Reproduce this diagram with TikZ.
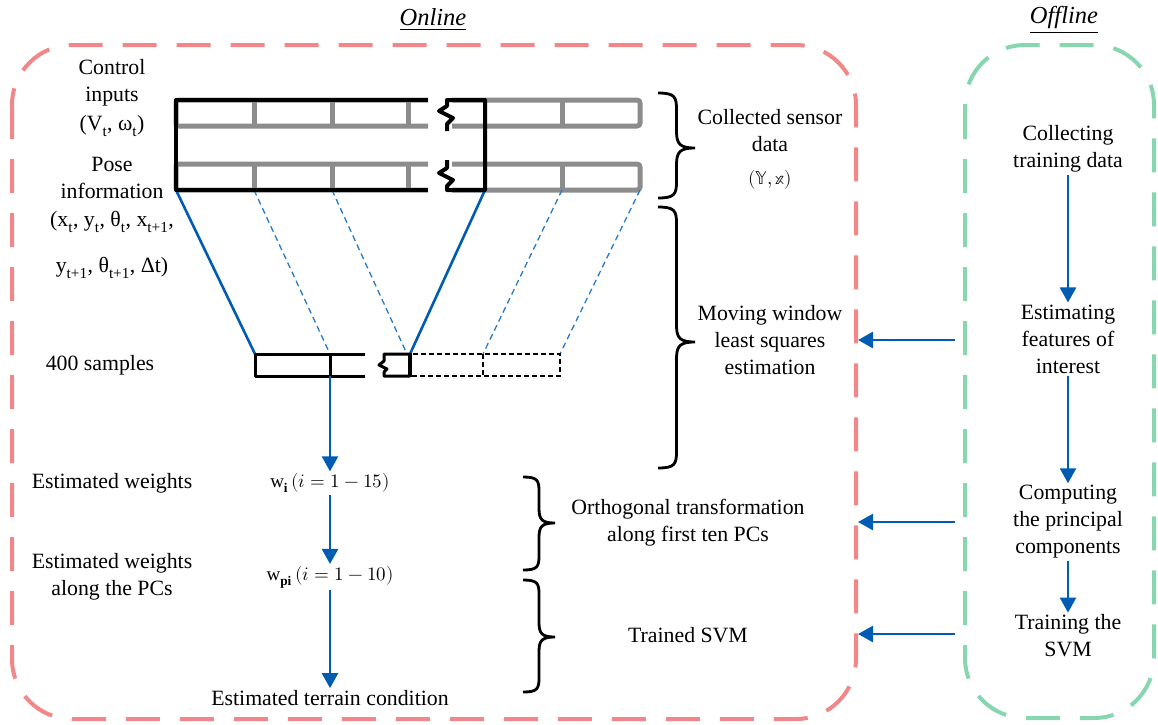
\documentclass[tikz,border=0pt]{standalone}
\usepackage{fontspec}
\usepackage{unicode-math}
\setmainfont{Liberation Serif}
\setmathfont{Latin Modern Math}
\usetikzlibrary{arrows.meta}

\definecolor{onlinepink}{RGB}{242,135,138}
\definecolor{offlinegreen}{RGB}{135,214,175}
\definecolor{bargray}{RGB}{140,140,140}
\definecolor{flowblue}{RGB}{0,92,178}
\definecolor{linkblue}{RGB}{40,122,200}

% curly brace opening to the right: x, top, bottom, tip height, depth
\newcommand{\curlyglyph}[5]{%
  \draw[bracestroke] (#1,#2)
    .. controls ({#1+0.45*#5},#2) and ({#1+0.5*#5},{#2+0.1*#5}) .. ({#1+0.5*#5},{#2+0.45*#5})
    -- ({#1+0.5*#5},{#4-0.45*#5})
    .. controls ({#1+0.5*#5},{#4-0.1*#5}) and ({#1+0.6*#5},#4) .. ({#1+#5},#4)
    .. controls ({#1+0.6*#5},#4) and ({#1+0.5*#5},{#4+0.1*#5}) .. ({#1+0.5*#5},{#4+0.45*#5})
    -- ({#1+0.5*#5},{#3-0.45*#5})
    .. controls ({#1+0.5*#5},{#3-0.1*#5}) and ({#1+0.45*#5},#3) .. (#1,#3);%
}

\begin{document}
\begin{tikzpicture}[x=1pt,y=-1pt,
  txt/.style={font=\fontsize{21.8}{27}\selectfont, align=center, inner sep=2pt},
  headtxt/.style={font=\fontsize{24.5}{28}\selectfont, inner sep=2pt},
  mathtxt/.style={font=\fontsize{19}{23}\selectfont, inner sep=2pt},
  region/.style={line width=4pt, dash pattern=on 34pt off 20pt, rounded corners=60pt},
  bar/.style={draw=bargray, line width=5pt},
  frame/.style={draw=black, line width=4pt, line join=round},
  flow/.style={draw=flowblue, line width=2.6pt, -{Triangle[width=16pt,length=15pt]}},
  link/.style={draw=flowblue, line width=2.6pt},
  dlink/.style={draw=linkblue, line width=1.3pt, dash pattern=on 6pt off 4pt},
  bracestroke/.style={draw=black, line width=2.8pt},
  ghost/.style={draw=black, line width=1.3pt, dash pattern=on 5pt off 3pt},
]
\useasboundingbox (0,0) rectangle (1158,724);

% the two processing regions
\draw[region, draw=onlinepink] (12,45) rectangle (856,719);
\draw[region, draw=offlinegreen] (965,45) rectangle (1154,718);
\node[headtxt] (online) at (433,20) {\underline{\textit{Online}}};
\node[headtxt] (offline) at (1064,20) {\underline{\textit{Offline}}};

% sensor data streams (two rows of cells, broken in the middle)
\foreach \t/\b in {100/126, 164/190} {
  \draw[bar, rounded corners=2pt] (428,\t) -- (176,\t) -- (176,\b) -- (428,\b);
  \draw[bar, rounded corners=3pt] (452,\t) -- (640,\t) -- (640,\b) -- (452,\b);
  \foreach \c in {254,332,408,562} \draw[bar] (\c,\t) -- (\c,\b);
}

% corners of the data window and of the sample window
\coordinate (dA) at (176,190);
\coordinate (dB) at (254,190);
\coordinate (dC) at (332,190);
\coordinate (dD) at (485,190);
\coordinate (dE) at (562,190);
\coordinate (dF) at (640,190);
\coordinate (sA) at (255,354);
\coordinate (sB) at (330,354);
\coordinate (sC) at (407,354);
\coordinate (sD) at (410,354);
\coordinate (sE) at (483,354);
\coordinate (sF) at (560,354);

% projection of the data window onto the samples
\draw[link] (dA) -- (sA);
\draw[link] (dD) -- (sD);
\draw[dlink] (dB) -- (sB);
\draw[dlink] (dC) -- (sC);
\draw[dlink] (dE) -- (sE);
\draw[dlink] (dF) -- (sF);

% black window over the data streams
\draw[frame] (428,100) -- (176,100) -- (176,190) -- (428,190);
\draw[frame] (447,131) -- (447,124) -- (453,118) -- (439,111) -- (447,106) -- (447,100)
  -- (485,100) -- (485,190) -- (447,190) -- (447,186) -- (453,180) -- (439,173) -- (447,168) -- (447,160);

% 400-sample window
\draw[frame, line width=3pt] (365,354) -- (255,354) -- (255,376) -- (365,376);
\draw[frame, line width=3pt] (330,354) -- (330,376);
\draw[frame, line width=3pt] (410,376) -- (384,376) -- (384,372) -- (387,369) -- (379,365)
  -- (384,361) -- (384,354) -- (410,354);
\draw[frame, line width=4.5pt] (410,353) -- (410,377);
\draw[ghost] (410,354) rectangle (560,376);
\draw[ghost] (483,354) -- (483,376);

% left-hand labels
\node[txt] (ctrl) at (112,83) {Control\\inputs};
\node[txt] (ctrlvars) at (112,126) {(V\textsubscript{t}, ω\textsubscript{t})};
\node[txt] (pose) at (112,178) {Pose\\information};
\node[txt] (posevars) at (112,245) {(x\textsubscript{t}, y\textsubscript{t}, θ\textsubscript{t}, x\textsubscript{t+1},\\[19pt]
  y\textsubscript{t+1}, θ\textsubscript{t+1}, Δt)};
\node[txt] (samples) at (100,365) {400 samples};
\node[txt] (estw) at (112,483) {Estimated weights};
\node[txt] (estwpc) at (112,577) {Estimated weights\\along the PCs};

% online chain
\coordinate (winout) at (330,376);
\node[mathtxt] (wi) at (330,483) {$\mathrm{w}_{\mathbf{i}}\,(i=1-15)$};
\node[mathtxt] (wpi) at (330,577) {$\mathrm{w}_{\mathbf{pi}}\,(i=1-10)$};
\node[txt] (terrain) at (330,698) {Estimated terrain condition};
\draw[flow] (winout) -- (wi);
\draw[flow] (wi) -- (wpi);
\draw[flow] (wpi) -- (terrain);

% braces and their descriptions
\curlyglyph{658}{93}{198}{148}{37}
\curlyglyph{658}{207}{468}{342}{37}
\curlyglyph{523}{477}{570}{523}{32}
\curlyglyph{523}{580}{692}{637}{32}
\node[txt] (sensor) at (770,131) {Collected sensor\\data};
\node[mathtxt] (sensorvars) at (770,180) {$(\symbb{Y},\symbb{x})$};
\node[txt] (mwls) at (770,340) {Moving window\\least squares\\estimation};
\node[txt] (ortho) at (688,523) {Orthogonal transformation\\along first ten PCs};
\node[txt] (svm) at (688,635) {Trained SVM};

% offline chain
\node[txt] (collect) at (1068,149) {Collecting\\training data};
\node[txt] (features) at (1068,339) {Estimating\\features of\\interest};
\node[txt] (pcs) at (1068,522) {Computing\\the principal\\components};
\node[txt] (train) at (1068,636) {Training the\\SVM};
\draw[flow] (collect) -- (features);
\draw[flow] (features) -- (pcs);
\draw[flow] (pcs) -- (train);

% offline results fed to the online stages
\coordinate (f1) at (955,340);
\coordinate (f2) at (955,522);
\coordinate (f3) at (955,634);
\coordinate (t1) at (858,340);
\coordinate (t2) at (858,522);
\coordinate (t3) at (858,634);
\draw[flow] (f1) -- (t1);
\draw[flow] (f2) -- (t2);
\draw[flow] (f3) -- (t3);
\end{tikzpicture}
\end{document}
